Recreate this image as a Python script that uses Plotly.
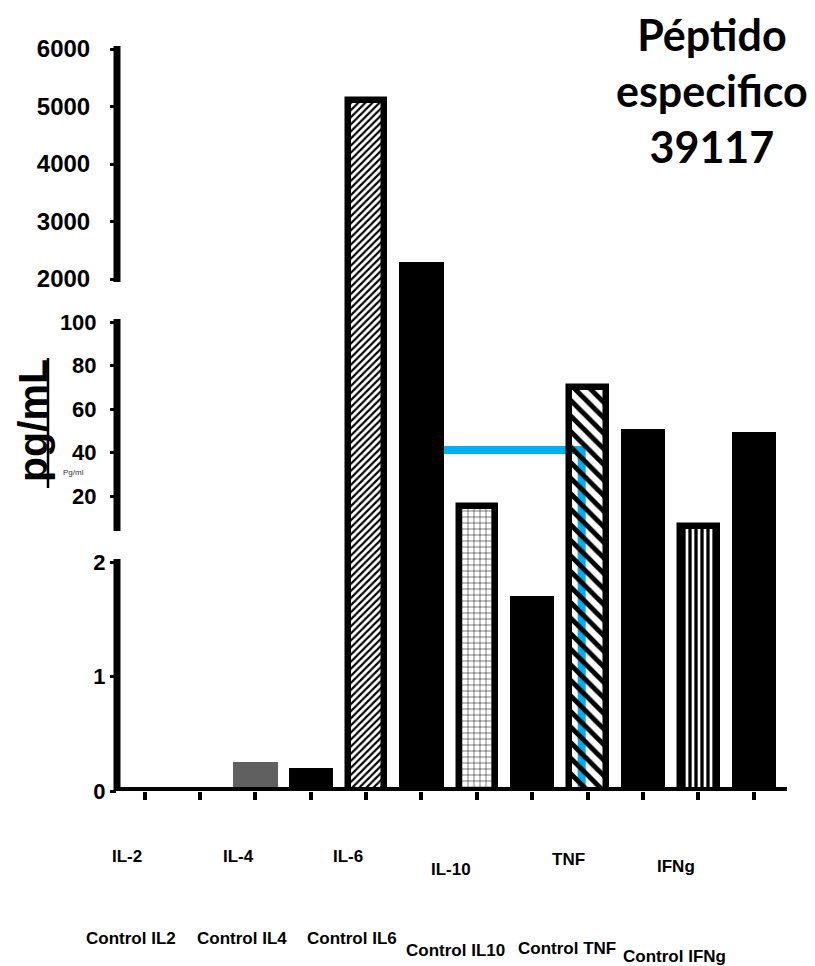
import plotly.graph_objects as go

# ---------------- data ----------------
cytokines = ["IL-2", "IL-4", "IL-6", "IL-10", "TNF", "IFNg"]
control_labels = ["Control IL2", "Control IL4", "Control IL6",
                  "Control IL10", "Control TNF", "Control IFNg"]
peptide_values = [0, 0.25, 5120, 15.3, 70, 6]
control_values = [0, 0.2, 2300, 1.7, 50.7, 49.3]

ticks_low = [0, 1, 2]
ticks_mid = [20, 40, 60, 80, 100]
ticks_high = [2000, 3000, 4000, 5000, 6000]

title_text = "Péptido<br>especifico<br>39117"
y_title = "pg/mL"
y_small = "Pg/ml"

# ---------------- layout geometry (page px) ----------------
OFF = 8                     # default body margin of the html page
W, H = 815 - OFF, 966 - OFF
PLOT_L, PLOT_R, PLOT_T, PLOT_B = 117, 787, 40, 791   # plot area in page px
ML, MR = PLOT_L - OFF, (W + OFF) - PLOT_R
MT, MB = PLOT_T - OFF, (H + OFF) - PLOT_B
PW, PH = PLOT_R - PLOT_L, PLOT_B - PLOT_T
STEP = 55.36                # px per category slot

# piecewise linear scale: value -> axis units (axis units == px above x-axis)
SEGMENTS = [
    dict(lo=0.0, hi=2.0, ref=0.0, d_ref=0.0, scale=114.5),
    dict(lo=5.3, hi=100.0, ref=20.0, d_ref=295.0, scale=2.175),
    dict(lo=2000.0, hi=6000.0, ref=2000.0, d_ref=512.0, scale=0.0575),
]


def seg_for(v):
    if v < 3.5:
        return SEGMENTS[0]
    if v < 1000:
        return SEGMENTS[1]
    return SEGMENTS[2]


def to_axis(v):
    s = seg_for(v)
    return s["d_ref"] + (v - s["ref"]) * s["scale"]


def px_x(px):
    return (px - PLOT_L) / PW


def px_y(py):
    return (PLOT_B - py) / PH


# ---------------- styles ----------------
pep_width = [0.8, 0.8, 0.66, 0.66, 0.66, 0.66]
pep_line = [0, 0, 6.5, 6.5, 6.5, 6.5]
pep_color = ["#606060", "#606060", "black", "black", "black", "black"]
pep_shape = ["", "", "/", "+", "\\", "|"]
pep_size = [8, 8, 5, 6, 11, 6]
pep_solid = [0.3, 0.3, 0.42, 0.16, 0.45, 0.55]
pep_bg = ["white", "white", "white", "white", "rgba(0,0,0,0)", "white"]

x_pep = [2 * i + 1 for i in range(len(cytokines))]
x_ctl = [2 * i + 2 for i in range(len(cytokines))]

fig = go.Figure()

fig.add_trace(go.Bar(
    x=x_pep, y=[to_axis(v) for v in peptide_values],
    width=pep_width, name="Péptido",
    marker=dict(color=pep_color,
                line=dict(color="black", width=pep_line),
                pattern=dict(shape=pep_shape, size=pep_size, solidity=pep_solid,
                             fgcolor="black", bgcolor=pep_bg, fillmode="replace")),
    customdata=peptide_values, hovertemplate="%{customdata}<extra></extra>",
    showlegend=False,
))
fig.add_trace(go.Bar(
    x=x_ctl, y=[to_axis(v) for v in control_values],
    width=0.8, name="Control",
    marker=dict(color="black", line=dict(width=0)),
    customdata=control_values, hovertemplate="%{customdata}<extra></extra>",
    showlegend=False,
))
# empty traces so the overlaid tick axes exist
fig.add_trace(go.Scatter(x=[], y=[], yaxis="y2", showlegend=False))
fig.add_trace(go.Scatter(x=[], y=[], yaxis="y3", showlegend=False))

tick_font_small = dict(family="Liberation Sans", size=22, color="black", weight="bold")
tick_font_big = dict(family="Liberation Sans", size=24, color="black", weight="bold")

common_y = dict(range=[0, PH], showgrid=False, zeroline=False, showline=False,
                ticks="outside", ticklen=6, tickwidth=3, tickcolor="black",
                fixedrange=True)

fig.update_layout(
    width=W, height=H,
    margin=dict(l=ML, r=MR, t=MT, b=MB, pad=0),
    paper_bgcolor="white", plot_bgcolor="white",
    barmode="overlay", bargap=0,
    xaxis=dict(range=[0.5, 0.5 + PW / STEP], tickvals=list(range(1, 13)),
               showticklabels=False, ticks="outside", ticklen=8, tickwidth=4,
               tickcolor="black", showgrid=False, zeroline=False, showline=False,
               fixedrange=True),
    yaxis=dict(**common_y, tickvals=[to_axis(v) for v in ticks_low],
               ticktext=[str(v) for v in ticks_low], tickfont=tick_font_small,
               ticklabelstandoff=0),
    yaxis2=dict(**common_y, overlaying="y", side="left", anchor="x",
                tickvals=[to_axis(v) for v in ticks_mid],
                ticktext=[str(v) for v in ticks_mid], tickfont=tick_font_small,
                ticklabelstandoff=9),
    yaxis3=dict(**common_y, overlaying="y", side="left", anchor="x",
                tickvals=[to_axis(v) for v in ticks_high],
                ticktext=[str(v) for v in ticks_high], tickfont=tick_font_big,
                ticklabelstandoff=15),
)

# blue rectangle artifact behind the bars
fig.add_shape(type="rect", xref="x", yref="y",
              x0=5.877, x1=8.894, y0=to_axis(-0.0175), y1=to_axis(41.1),
              line=dict(color="#00B0F0", width=8), fillcolor="rgba(0,0,0,0)",
              layer="below")

# broken y-axis line segments
for s in SEGMENTS:
    fig.add_shape(type="line", xref="paper", yref="y", x0=0, x1=0,
                  y0=to_axis(s["lo"]) - 3, y1=to_axis(s["hi"]) + 3,
                  line=dict(color="black", width=7), layer="above")
# x-axis line
fig.add_shape(type="line", xref="paper", yref="y", x0=0, x1=1,
              y0=to_axis(0), y1=to_axis(0),
              line=dict(color="black", width=8), layer="above")

# y title (rotated, underlined)
fig.add_annotation(xref="paper", yref="paper", x=px_x(33), y=px_y(421),
                   text=f"<b>{y_title}</b>", textangle=-90, showarrow=False,
                   xanchor="center", yanchor="middle",
                   font=dict(family="Liberation Sans", size=41, color="black"))
fig.add_shape(type="line", xref="paper", yref="paper",
              x0=px_x(48), x1=px_x(48), y0=px_y(358), y1=px_y(488),
              line=dict(color="black", width=2.5))
fig.add_annotation(xref="paper", yref="paper", x=px_x(73), y=px_y(472),
                   text=y_small, showarrow=False, xanchor="center", yanchor="middle",
                   font=dict(family="Liberation Sans", size=8, color="#333"))

# title
fig.add_annotation(xref="paper", yref="paper", x=px_x(712), y=px_y(OFF),
                   text=title_text, showarrow=False, xanchor="center", yanchor="top",
                   align="center", borderpad=0,
                   font=dict(family="Lato", size=43, color="black", weight="bold"))

# category labels
cyt_label_px = [(127, 856), (238, 856), (348, 856), (451, 869), (568, 859), (676, 866)]
ctl_label_px = [(131, 938), (242, 938), (352, 938), (455, 950), (567, 948), (674, 956)]
lab_font = dict(family="Liberation Sans", size=17, color="black", weight="bold")
for txt, (px, py) in zip(cytokines, cyt_label_px):
    fig.add_annotation(xref="paper", yref="paper", x=px_x(px), y=px_y(py), text=txt,
                       showarrow=False, xanchor="center", yanchor="middle", font=lab_font)
for txt, (px, py) in zip(control_labels, ctl_label_px):
    fig.add_annotation(xref="paper", yref="paper", x=px_x(px), y=px_y(py), text=txt,
                       showarrow=False, xanchor="center", yanchor="middle", font=lab_font)

fig.write_html("out.html")
